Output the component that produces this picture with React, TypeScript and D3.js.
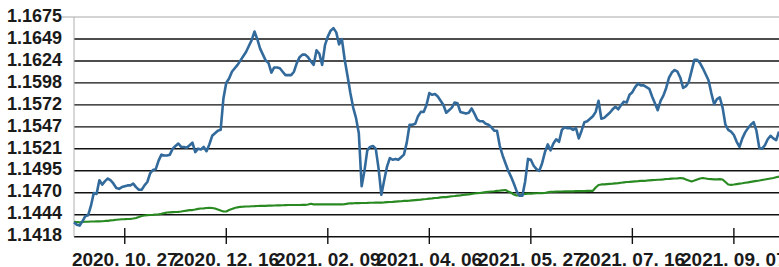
import { useEffect, useRef } from 'react';
import * as d3 from 'd3';

// 기준 환율 (파란선) - 일별
const rateValues = [
  1.1435, 1.1432, 1.1431, 1.1436, 1.1442, 1.1443, 1.1454, 1.1469, 1.1468, 1.1484,
  1.1479, 1.1483, 1.1486, 1.1484, 1.1480, 1.1475, 1.1474, 1.1476, 1.1477, 1.1478,
  1.1478, 1.1480, 1.1476, 1.1473, 1.1473, 1.1478, 1.1482, 1.1492, 1.1496, 1.1497,
  1.1507, 1.1514, 1.1513, 1.1513, 1.1514, 1.1521, 1.1524, 1.1527, 1.1523, 1.1523,
  1.1522, 1.1525, 1.1528, 1.1517, 1.1521, 1.1520, 1.1523, 1.1518, 1.1526, 1.1536,
  1.1539, 1.1542, 1.1543, 1.1580, 1.1598, 1.1603, 1.1611, 1.1615, 1.1619, 1.1624,
  1.1629, 1.1634, 1.1641, 1.1648, 1.1658, 1.1649, 1.1638, 1.1631, 1.1624, 1.1621,
  1.1610, 1.1616, 1.1616, 1.1615, 1.1611, 1.1607, 1.1607, 1.1607, 1.1611, 1.1621,
  1.1628, 1.1631, 1.1631, 1.1628, 1.1623, 1.1619, 1.1636, 1.1632, 1.1619, 1.1642,
  1.1652, 1.1659, 1.1662, 1.1657, 1.1643, 1.1649, 1.1625, 1.1606, 1.1586, 1.1569,
  1.1557, 1.1539, 1.1477, 1.1495, 1.1519, 1.1523, 1.1524, 1.1521, 1.1498, 1.1467,
  1.1484, 1.1500, 1.1510, 1.1508, 1.1509, 1.1508, 1.1511, 1.1514, 1.1528, 1.1549,
  1.1549, 1.1550, 1.1559, 1.1564, 1.1564, 1.1572, 1.1586, 1.1584, 1.1585, 1.1582,
  1.1577, 1.1572, 1.1563, 1.1566, 1.1569, 1.1575, 1.1574, 1.1564, 1.1563, 1.1562,
  1.1563, 1.1568, 1.1562, 1.1555, 1.1553, 1.1553, 1.1550, 1.1549, 1.1546, 1.1542,
  1.1542, 1.1524, 1.1513, 1.1504, 1.1495, 1.1488, 1.1480, 1.1471, 1.1466, 1.1466,
  1.1483, 1.1509, 1.1508, 1.1501, 1.1497, 1.1495, 1.1504, 1.1517, 1.1526, 1.1519,
  1.1527, 1.1532, 1.1529, 1.1543, 1.1546, 1.1545, 1.1545, 1.1543, 1.1545, 1.1533,
  1.1542, 1.1552, 1.1553, 1.1556, 1.1559, 1.1564, 1.1577, 1.1556, 1.1557, 1.1560,
  1.1563, 1.1567, 1.1570, 1.1567, 1.1572, 1.1576, 1.1575, 1.1584, 1.1587, 1.1593,
  1.1597, 1.1595, 1.1595, 1.1593, 1.1591, 1.1582, 1.1574, 1.1566, 1.1577, 1.1583,
  1.1592, 1.1604, 1.1610, 1.1613, 1.1611, 1.1604, 1.1592, 1.1594, 1.1599, 1.1612,
  1.1625, 1.1625, 1.1621, 1.1615, 1.1608, 1.1601, 1.1586, 1.1573, 1.1579, 1.1581,
  1.1569, 1.1549, 1.1543, 1.1541, 1.1537, 1.1529, 1.1523, 1.1533, 1.1540, 1.1545,
  1.1549, 1.1552, 1.1542, 1.1522, 1.1521, 1.1525, 1.1532, 1.1536, 1.1533, 1.1531,
  1.1541
];

// 평균선 (초록선)
const avgValues = [
  1.14355, 1.14352, 1.14348, 1.14352, 1.14355, 1.14355, 1.14358, 1.14358, 1.1436, 1.1436,
  1.14361, 1.14364, 1.14366, 1.1437, 1.14373, 1.14378, 1.14381, 1.14384, 1.14385, 1.14387,
  1.14389, 1.14393, 1.14399, 1.1441, 1.14422, 1.14428, 1.14432, 1.14434, 1.14436, 1.1444,
  1.14442, 1.14448, 1.14455, 1.14463, 1.14465, 1.14467, 1.14469, 1.14471, 1.14475, 1.14481,
  1.14486, 1.1449, 1.14492, 1.14498, 1.14506, 1.1451, 1.14512, 1.14516, 1.14518, 1.14516,
  1.1451, 1.14498, 1.14486, 1.14475, 1.14475, 1.14492, 1.14504, 1.14516, 1.14524, 1.1453,
  1.14531, 1.14533, 1.14533, 1.14536, 1.14537, 1.14539, 1.1454, 1.14541, 1.14541, 1.14543,
  1.14544, 1.14545, 1.14546, 1.14547, 1.14548, 1.1455, 1.14551, 1.14551, 1.14551, 1.14551,
  1.14551, 1.14552, 1.14553, 1.14557, 1.14565, 1.14559, 1.14557, 1.14557, 1.14557, 1.14557,
  1.14557, 1.14557, 1.14558, 1.14559, 1.14559, 1.14557, 1.1456, 1.14567, 1.14571, 1.14571,
  1.14572, 1.14573, 1.14574, 1.14574, 1.14575, 1.14577, 1.14577, 1.14578, 1.14578, 1.14579,
  1.14581, 1.14584, 1.14586, 1.14588, 1.14591, 1.14593, 1.14595, 1.14598, 1.146, 1.14602,
  1.14605, 1.14608, 1.14611, 1.14613, 1.14618, 1.14621, 1.14626, 1.14629, 1.14633, 1.14635,
  1.14639, 1.14642, 1.14644, 1.14648, 1.14653, 1.14656, 1.14661, 1.14664, 1.14668, 1.14672,
  1.14676, 1.1468, 1.14685, 1.14689, 1.14691, 1.14696, 1.14701, 1.14706, 1.14709, 1.14712,
  1.14716, 1.14719, 1.14723, 1.14726, 1.14709, 1.14694, 1.14674, 1.14662, 1.14665, 1.14676,
  1.1468, 1.14683, 1.14685, 1.14687, 1.14688, 1.14689, 1.1469, 1.14691, 1.14698, 1.14705,
  1.14706, 1.14708, 1.14709, 1.14709, 1.1471, 1.1471, 1.14711, 1.14711, 1.14712, 1.14712,
  1.14713, 1.14713, 1.14715, 1.14715, 1.14717, 1.14756, 1.14785, 1.14791, 1.14793, 1.14796,
  1.14799, 1.14801, 1.14804, 1.14806, 1.14811, 1.14816, 1.1482, 1.14822, 1.14825, 1.14827,
  1.14829, 1.14832, 1.14834, 1.14836, 1.1484, 1.14842, 1.14843, 1.14846, 1.14848, 1.14851,
  1.14855, 1.14857, 1.1486, 1.14861, 1.14863, 1.14867, 1.14863, 1.14849, 1.14837, 1.14826,
  1.14837, 1.14849, 1.14861, 1.14867, 1.14861, 1.14855, 1.14853, 1.14851, 1.14851, 1.14853,
  1.14849, 1.1482, 1.14791, 1.14787, 1.14791, 1.14796, 1.14801, 1.14805, 1.14811, 1.14816,
  1.14822, 1.14828, 1.14832, 1.14837, 1.14843, 1.14849, 1.14855, 1.14861, 1.14867, 1.14875,
  1.14882
];

// x축 눈금 (데이터 인덱스 기준)
const xTickIndex = [18, 54, 90, 126, 162, 198, 234];
const xTickLabels = [
  '2020. 10. 27', '2020. 12. 16', '2021. 02. 09', '2021. 04. 06',
  '2021. 05. 27', '2021. 07. 16', '2021. 09. 07'
];

// y축 눈금 라벨 (아래에서 위로)
const yTickLabels = [
  '1.1418', '1.1444', '1.1470', '1.1495', '1.1521', '1.1547',
  '1.1572', '1.1598', '1.1624', '1.1649', '1.1675'
];
const yMin = 1.1418;
const yMax = 1.1675;

export default function App() {
  const svgRef = useRef<SVGSVGElement>(null);

  useEffect(() => {
    if (!svgRef.current) return;
    const svg = d3.select(svgRef.current);
    svg.selectAll('*').remove();

    const left = 74;
    const top = 17;
    const bottom = 236.7;
    const width = 779;

    const x = d3.scaleLinear().domain([0, 250]).range([left, width]);
    const y = d3.scaleLinear().domain([yMin, yMax]).range([bottom, top]);
    const step = (yMax - yMin) / (yTickLabels.length - 1);

    const font = "'Liberation Sans', Arial, sans-serif";

    // 가로 그리드
    yTickLabels.forEach((label, k) => {
      const yy = y(yMin + k * step);
      const isTop = k === yTickLabels.length - 1;
      svg.append('line')
        .attr('x1', isTop ? 62 : left)
        .attr('x2', width)
        .attr('y1', yy)
        .attr('y2', yy)
        .attr('stroke', isTop ? '#a8a8a8' : '#111')
        .attr('stroke-width', isTop ? 1 : 1.4);

      svg.append('text')
        .attr('x', 62)
        .attr('y', yy + 4.7)
        .attr('text-anchor', 'end')
        .attr('font-family', font)
        .attr('font-weight', 'bold')
        .attr('font-size', '18px')
        .attr('fill', '#1a1a1a')
        .text(label);
    });

    // 왼쪽 축
    svg.append('line')
      .attr('x1', left).attr('x2', left)
      .attr('y1', top).attr('y2', bottom)
      .attr('stroke', '#b0b0b0')
      .attr('stroke-width', 1);

    // x축 눈금 & 라벨
    xTickIndex.forEach((idx, k) => {
      const xx = x(idx);
      svg.append('line')
        .attr('x1', xx).attr('x2', xx)
        .attr('y1', 228).attr('y2', 244)
        .attr('stroke', '#111')
        .attr('stroke-width', 1.4);
      svg.append('text')
        .attr('x', xx)
        .attr('y', 266)
        .attr('text-anchor', 'middle')
        .attr('font-family', font)
        .attr('font-weight', 'bold')
        .attr('font-size', '19px')
        .attr('fill', '#1a1a1a')
        .text(xTickLabels[k]);
    });

    const line = d3.line<number>()
      .x((_, i) => x(i))
      .y(d => y(d));

    svg.append('path')
      .datum(avgValues)
      .attr('d', line)
      .attr('fill', 'none')
      .attr('stroke', '#2a8a22')
      .attr('stroke-width', 2.2)
      .attr('stroke-linejoin', 'round');

    svg.append('path')
      .datum(rateValues)
      .attr('d', line)
      .attr('fill', 'none')
      .attr('stroke', '#336a9c')
      .attr('stroke-width', 2.6)
      .attr('stroke-linejoin', 'round');
  }, []);

  return (
    <svg
      ref={svgRef}
      width={779}
      height={267}
      style={{ position: 'absolute', left: 0, top: 0, background: '#fff' }}
    />
  );
}
